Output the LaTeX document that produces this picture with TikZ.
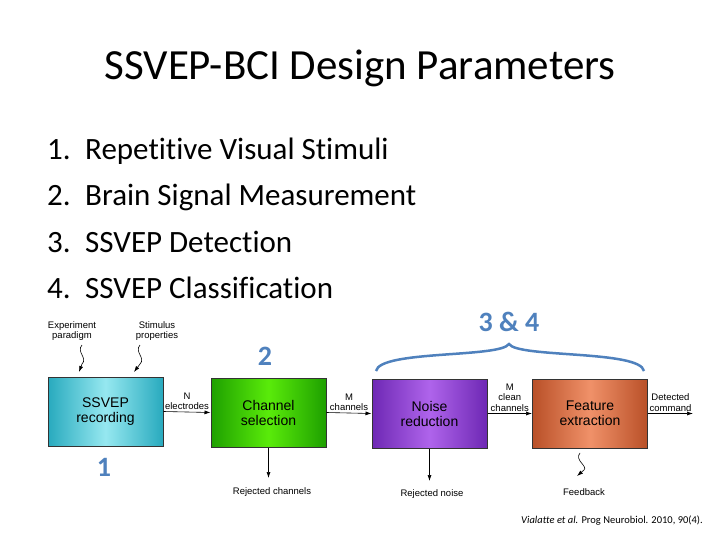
\documentclass[tikz,border=0pt]{standalone}
\usepackage{fontspec}
\setmainfont{Carlito}[Ligatures=NoCommon]
\newfontfamily\arial{Liberation Sans}
\usetikzlibrary{arrows.meta}
\definecolor{numblue}{RGB}{79,129,189}
\definecolor{cyE}{RGB}{40,170,190}\definecolor{cyM}{RGB}{150,232,240}
\definecolor{grE}{RGB}{30,160,0}\definecolor{grM}{RGB}{90,235,10}
\definecolor{puE}{RGB}{110,40,180}\definecolor{puM}{RGB}{175,100,235}
\definecolor{orE}{RGB}{185,80,40}\definecolor{orM}{RGB}{240,145,105}
\begin{document}
\begin{tikzpicture}[x=1pt,y=-1pt,
  box/.style={draw=black!80,line width=1pt,minimum width=115pt,minimum height=69pt,inner sep=0pt,align=center,font=\arial\fontsize{14}{15}\selectfont},
  lab/.style={font=\arial\fontsize{9.5}{10.5}\selectfont,align=center,inner sep=0pt},
  arr/.style={-{Latex[length=6pt,width=4pt]},line width=0.6pt},
  sq/.style={-{Latex[length=6pt,width=4pt]},line width=0.6pt},
  num/.style={text=numblue,font=\bfseries\fontsize{28}{30}\selectfont},
  item/.style={anchor=base west,inner sep=0pt,font=\fontsize{31}{33}\selectfont}]
\useasboundingbox (0,0) rectangle (720,540);
\fill[white] (0,0) rectangle (720,540);
\node (title) at (360,68) {\fontsize{43}{46}\selectfont SSVEP-BCI Design Parameters};
\foreach \i/\t/\y in {1/Repetitive Visual Stimuli/160,2/Brain Signal Measurement/206,3/SSVEP Detection/252,4/SSVEP Classification/298}{
  \node[item] (n\i) at (47,\y) {\i.};
  \node[item] (t\i) at (85,\y) {\t};
}
\node[box,shading=axis,left color=cyE,right color=cyE,middle color=cyM] (rec) at (105.5,411.5) {SSVEP\\recording};
\node[box,shading=axis,left color=grE,right color=grE,middle color=grM] (ch) at (268.5,412.5) {Channel\\selection};
\node[box,shading=axis,left color=puE,right color=puE,middle color=puM] (nr) at (429.5,413.5) {Noise\\reduction};
\node[box,shading=axis,left color=orE,right color=orE,middle color=orM] (fe) at (590,413.5) {Feature\\extraction};
\draw[arr] (rec.east) -- (ch.west) node[lab,midway,above=2pt] {N\\electrodes};
\draw[arr] (ch.east) -- (nr.west) node[lab,midway,above=2pt] {M\\channels};
\draw[arr] (nr.east) -- (fe.west) node[lab,midway,above=2pt] {M\\clean\\channels};
\coordinate (out) at (693,413.5);
\draw[arr] (fe.east) -- (out) node[lab,midway,above=2pt] {Detected\\command};
\node[lab] (rc) at (272,492) {Rejected channels};
\node[lab] (rn) at (432,494) {Rejected noise};
\node[lab] (fb) at (584,492) {Feedback};
\draw[arr] (ch.south) -- (ch.south |- 0,478);
\draw[arr] (nr.south) -- (nr.south |- 0,481);
\node[lab] (ep) at (72,331) {Experiment\\paradigm};
\node[lab] (sp) at (157,331) {Stimulus\\properties};
\coordinate (s1) at (82,345); \coordinate (s2) at (140,345); \coordinate (s3) at (580,453);
\draw[sq] (s1) .. controls (76,352) and (88,358) .. (82,364) -- (79,372);
\draw[sq] (s2) .. controls (134,352) and (146,358) .. (140,364) -- (134,372);
\draw[sq] (s3) .. controls (574,460) and (588,466) .. (584,470) -- (577,476);
\node[num] (l2) at (265,356) {2};
\node[num] (l1) at (104,467) {1};
\node[num] (l34) at (509,322) {3 \& 4};
\draw[numblue,line width=2.5pt] (376,371) .. controls (380,350) and (500,358) .. (509,344) .. controls (518,358) and (640,350) .. (644,371);
\node[font=\fontsize{10.5}{11}\selectfont] (cite) at (612,521) {\textit{Vialatte et al.} Prog Neurobiol. 2010, 90(4).};
\end{tikzpicture}
\end{document}
